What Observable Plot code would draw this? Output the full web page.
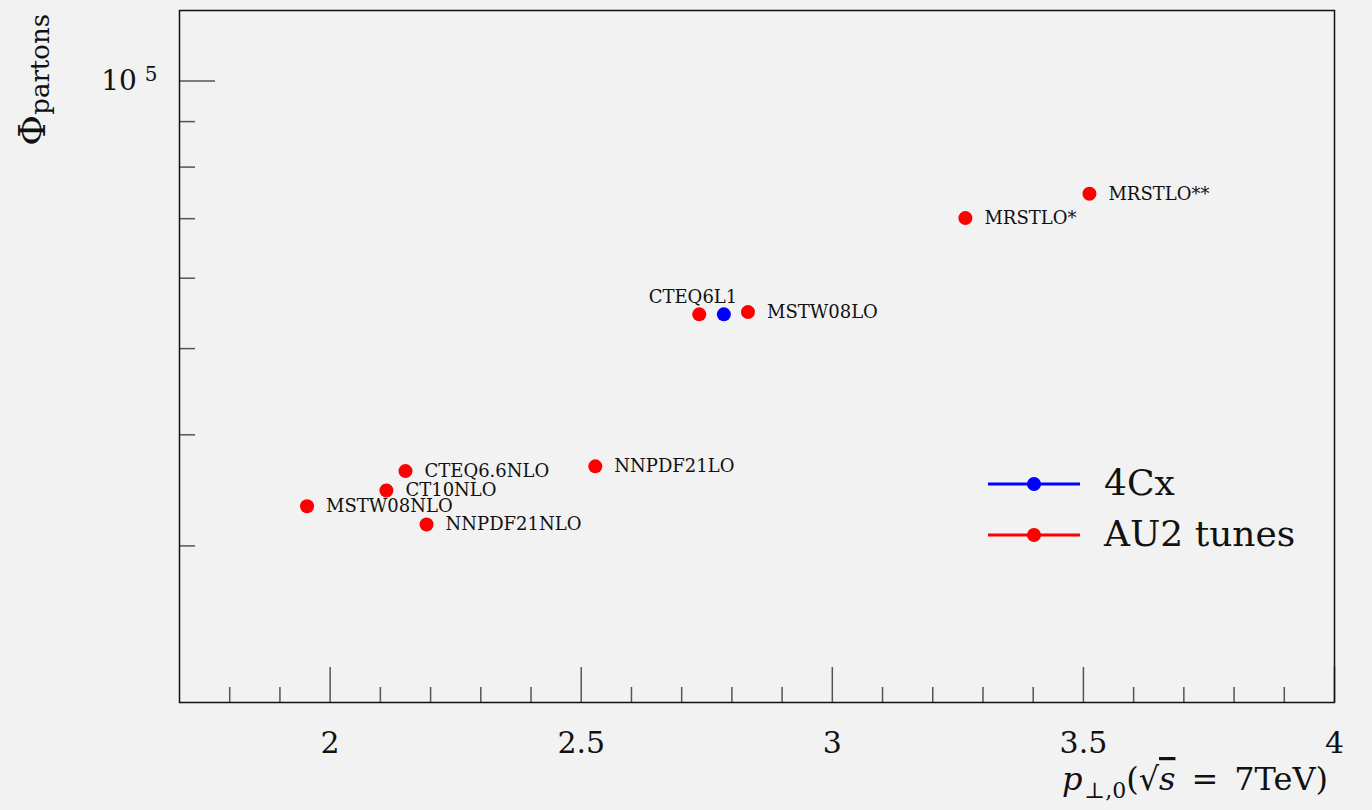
<!DOCTYPE html>
<html>
<head>
<meta charset="utf-8">
<script src="https://cdn.jsdelivr.net/npm/d3@7"></script>
<script src="https://cdn.jsdelivr.net/npm/@observablehq/plot@0.6"></script>
<style>
  html, body { margin: 0; padding: 0; background: #f2f2f2; }
  #chart { width: 1372px; height: 810px; }
</style>
</head>
<body>
<div id="chart"></div>
<script>
// AU2 tunes: regularisation scale pT0 vs. parton flux, one entry per PDF set
const au2Names = ["MRSTLO**", "MRSTLO*", "CTEQ6L1", "MSTW08LO", "NNPDF21LO",
                  "CTEQ6.6NLO", "CT10NLO", "MSTW08NLO", "NNPDF21NLO"];
const au2PT0   = [3.512, 3.265, 2.735, 2.832, 2.528, 2.150, 2.112, 1.954, 2.192];
const au2Phi   = [74660, 70100, 54640, 54960, 36860, 36410, 34630, 33250, 31710];

// 4Cx tune
const c4xPT0 = [2.784];
const c4xPhi = [54640];

// Axis ticks
const xMajorTicks = [2, 2.5, 3, 3.5, 4];
const xMinorTicks = [1.8, 1.9, 2.1, 2.2, 2.3, 2.4, 2.6, 2.7, 2.8, 2.9,
                     3.1, 3.2, 3.3, 3.4, 3.6, 3.7, 3.8, 3.9];
const yMajorTicks = [1e5];
const yMinorTicks = [3e4, 4e4, 5e4, 6e4, 7e4, 8e4, 9e4];

// Legend entries
const legendLabels = ["4Cx", "AU2 tunes"];
const legendColors = ["#0000ff", "#ff0000"];

const au2 = au2Names.map((name, i) => ({name, pT0: au2PT0[i], phi: au2Phi[i]}));
const c4x = c4xPT0.map((p, i) => ({pT0: p, phi: c4xPhi[i]}));

const serif = "'DejaVu Serif', 'Liberation Serif', serif";
const tickColor = "#555";
const ink = "#111";

const chart = Plot.plot({
  width: 1372,
  height: 810,
  marginLeft: 179,
  marginRight: 38,
  marginTop: 10,
  marginBottom: 108,
  style: {fontFamily: serif, fontSize: "30px", background: "transparent", color: ink},
  x: {domain: [1.7, 4.0]},
  y: {type: "log", domain: [2e4, 1.2e5]},
  marks: [
    // inward ticks along the bottom
    Plot.axisX(xMajorTicks, {tickSize: -35, strokeWidth: 1.5, stroke: tickColor, tickFormat: () => "", label: null}),
    Plot.axisX(xMinorTicks, {tickSize: -15, strokeWidth: 1.5, stroke: tickColor, tickFormat: () => "", label: null}),
    Plot.axisX(xMajorTicks, {tickSize: 0, tickPadding: 29, fontSize: 30, fill: ink, tickFormat: d => String(d), label: null}),
    // inward ticks along the left side
    Plot.axisY(yMajorTicks, {tickSize: -36, strokeWidth: 1.5, stroke: tickColor, tickFormat: () => "", label: null}),
    Plot.axisY(yMinorTicks, {tickSize: -16, strokeWidth: 1.5, stroke: tickColor, tickFormat: () => "", label: null}),
    Plot.axisY(yMajorTicks, {tickSize: 0, tickPadding: 22, fontSize: 28, fill: ink, tickFormat: () => "10", label: null, className: "ydecade"}),
    Plot.frame({stroke: ink, strokeWidth: 1.5}),
    // data points
    Plot.dot(au2, {x: "pT0", y: "phi", r: 7, fill: legendColors[1]}),
    Plot.dot(c4x, {x: "pT0", y: "phi", r: 7, fill: legendColors[0]}),
    // point labels
    Plot.text(au2.filter(d => d.name !== "CTEQ6L1"), {
      x: "pT0", y: "phi", text: "name", dx: 19, textAnchor: "start", fontSize: 18, fill: ink
    }),
    Plot.text(au2.filter(d => d.name === "CTEQ6L1"), {
      x: "pT0", y: "phi", text: "name", dx: 38, dy: -17, textAnchor: "end", fontSize: 18, fill: ink
    })
  ]
});

document.getElementById("chart").appendChild(chart);

const svg = d3.select(chart);

// exponent on the decade label
svg.selectAll(".ydecade text").each(function () {
  const t = d3.select(this);
  t.append("tspan").attr("dx", 8).attr("dy", "-0.45em").attr("font-size", 20).text("5");
});

// legend
const legend = svg.append("g").attr("font-family", serif).attr("text-anchor", "start");
legendLabels.forEach((label, i) => {
  const y = 484 + i * 51;
  legend.append("line").attr("x1", 988).attr("x2", 1080).attr("y1", y).attr("y2", y)
    .attr("stroke", legendColors[i]).attr("stroke-width", 3);
  legend.append("circle").attr("cx", 1034).attr("cy", y).attr("r", 7).attr("fill", legendColors[i]);
  legend.append("text").attr("x", 1104).attr("y", y + 11).attr("font-size", 36)
    .attr("fill", ink).text(label);
});

// x-axis title: p_{⊥,0}(√s = 7TeV)
const xt = svg.append("text").attr("font-family", serif).attr("font-size", 32)
  .attr("fill", ink).attr("text-anchor", "end").attr("x", 1328).attr("y", 790);
xt.append("tspan").attr("font-style", "italic").text("p");
xt.append("tspan").attr("font-size", 22).attr("dx", 2).attr("dy", 8).text("\u22A5,0");
xt.append("tspan").attr("dy", -8).text("(\u221A");
xt.append("tspan").attr("font-style", "italic").attr("text-decoration", "overline").text("s");
xt.append("tspan").text("\u2002=\u20027TeV)");

// y-axis title: Φ_partons
const yt = svg.append("text").attr("font-family", serif).attr("fill", ink)
  .attr("text-anchor", "end").attr("transform", "translate(45,14) rotate(-90)");
yt.append("tspan").attr("font-size", 38).text("\u03A6");
yt.append("tspan").attr("font-size", 26).attr("dy", 4).text("partons");
</script>
</body>
</html>
